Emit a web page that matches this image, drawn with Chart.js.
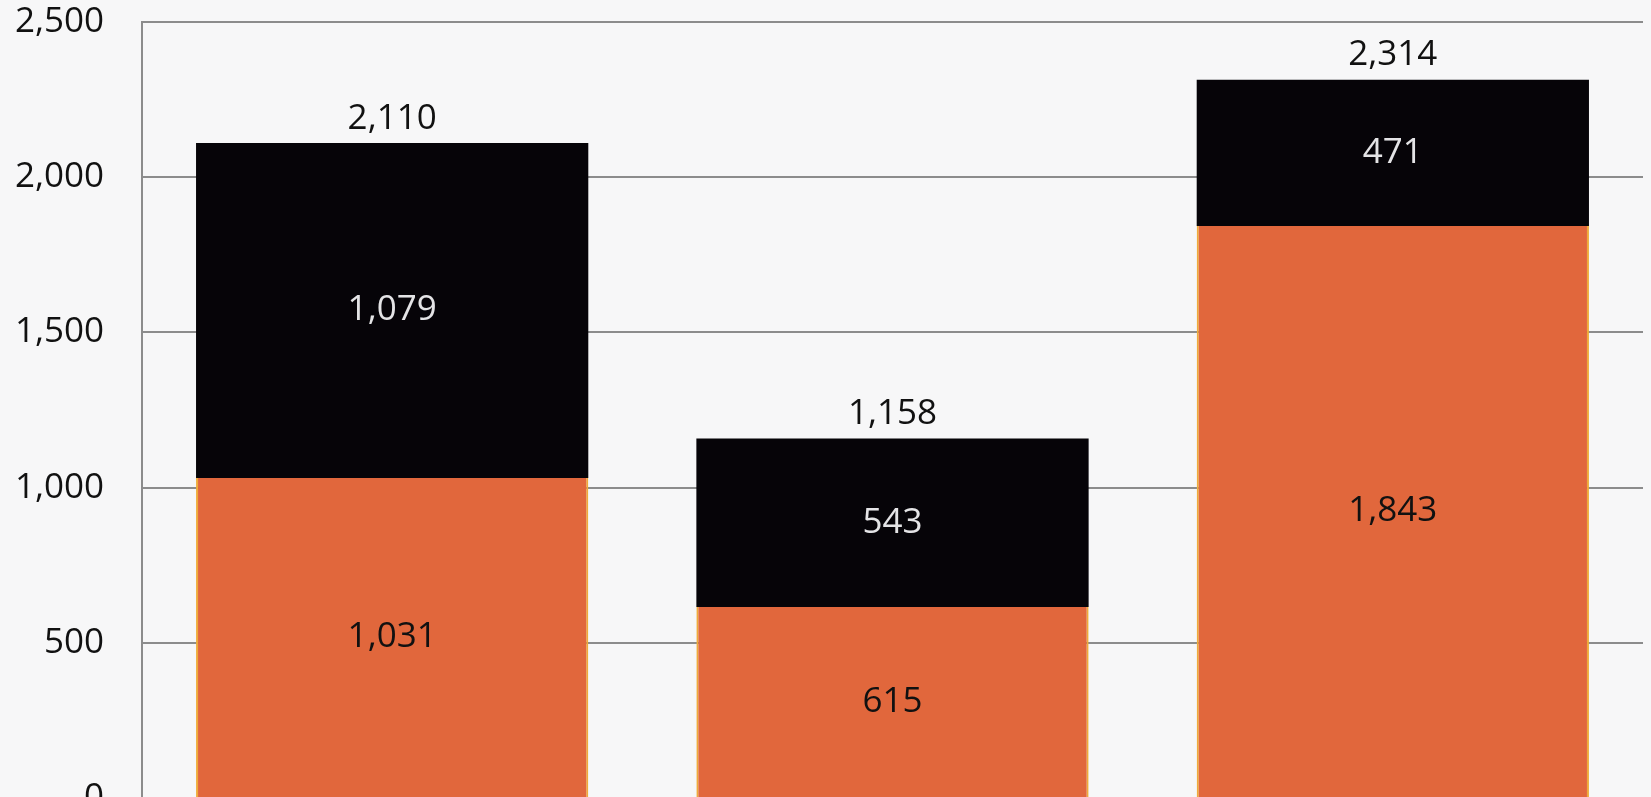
<!DOCTYPE html>
<html>
<head>
<meta charset="utf-8">
<script src="https://cdn.jsdelivr.net/npm/chart.js@4/dist/chart.umd.min.js"></script>
<style>
  html, body { margin: 0; padding: 0; background: #f7f7f8; overflow: hidden; }
  canvas { display: block; }
</style>
</head>
<body>
<canvas id="stackChart" width="1651" height="840"></canvas>
<script>
const categories = ['A', 'B', 'C'];
const orangeValues = [1031, 615, 1843];
const blackValues = [1079, 543, 471];
const totals = [2110, 1158, 2314];
const yTicks = [0, 500, 1000, 1500, 2000, 2500];

const ORANGE = '#e1673c';
const BLACK = '#060408';
const FONT = '"Open Sans", sans-serif';
const FONT_SIZE = 35;

const fmt = v => v.toLocaleString('en-US');

// draws segment values and totals on the bars
const barLabels = {
    id: 'barLabels',
    afterDatasetsDraw(chart) {
        const ctx = chart.ctx;
        ctx.save();
        ctx.font = FONT_SIZE + 'px ' + FONT;
        ctx.textAlign = 'center';
        ctx.textBaseline = 'middle';
        chart.data.datasets.forEach((ds, i) => {
            const meta = chart.getDatasetMeta(i);
            meta.data.forEach((bar, j) => {
                const mid = (bar.y + bar.base) / 2;
                ctx.fillStyle = i === 0 ? '#111111' : '#e4e4e6';
                ctx.fillText(fmt(ds.data[j]), bar.x, mid);
            });
        });
        const top = chart.getDatasetMeta(1);
        ctx.fillStyle = '#111111';
        ctx.textBaseline = 'bottom';
        top.data.forEach((bar, j) => {
            ctx.fillText(fmt(totals[j]), bar.x, bar.y - 7);
        });
        ctx.restore();
    }
};

new Chart(document.getElementById('stackChart'), {
    type: 'bar',
    data: {
        labels: categories,
        datasets: [
            {
                label: 'Orange',
                data: orangeValues,
                backgroundColor: ORANGE,
                borderColor: '#efab3a',
                borderWidth: { left: 2, right: 2, top: 0, bottom: 0 },
                borderSkipped: false,
                barPercentage: 0.784,
                categoryPercentage: 1
            },
            {
                label: 'Black',
                data: blackValues,
                backgroundColor: BLACK,
                barPercentage: 0.784,
                categoryPercentage: 1
            }
        ]
    },
    options: {
        responsive: false,
        animation: false,
        layout: { padding: { left: 14, right: 8, top: 22, bottom: 42 } },
        scales: {
            x: {
                stacked: true,
                display: false
            },
            y: {
                stacked: true,
                min: 0,
                max: 2500,
                afterBuildTicks: axis => { axis.ticks = yTicks.map(v => ({ value: v })); },
                afterFit: scale => {
                    scale.width = 128;
                    scale.paddingTop = 0;
                    scale.paddingBottom = 0;
                },
                ticks: {
                    color: '#111111',
                    font: { family: FONT, size: FONT_SIZE },
                    padding: 38,
                    callback: v => fmt(v)
                },
                grid: {
                    color: '#8c8c8c',
                    lineWidth: 2,
                    drawTicks: false
                },
                border: { display: true, color: '#8c8c8c', width: 2 }
            }
        },
        plugins: {
            legend: { display: false },
            tooltip: { enabled: false }
        }
    },
    plugins: [barLabels]
});
</script>
</body>
</html>
